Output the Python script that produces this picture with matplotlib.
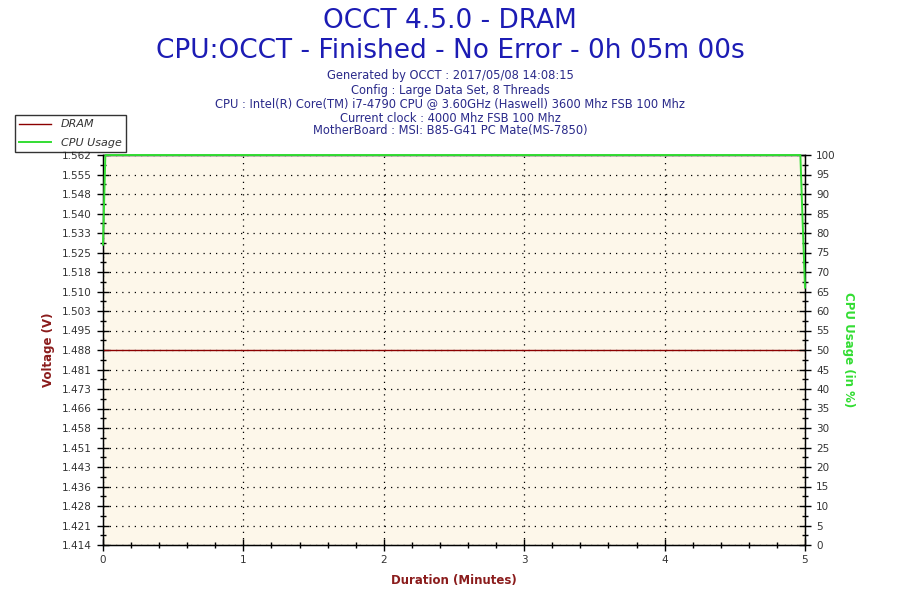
import matplotlib
matplotlib.use("Agg")
import matplotlib.pyplot as plt
from matplotlib.ticker import MultipleLocator, FixedLocator
import numpy as np

# Data
dram_time = [0.0, 5.0]
dram_voltage = [1.488, 1.488]
cpu_time = [0.0, 0.0, 0.0167, 4.967, 4.983, 5.0]
cpu_usage = [77, 77, 100, 100, 83, 66]

volt_labels = ["1.414", "1.421", "1.428", "1.436", "1.443", "1.451", "1.458", "1.466", "1.473", "1.481",
               "1.488", "1.495", "1.503", "1.510", "1.518", "1.525", "1.533", "1.540", "1.548", "1.555", "1.562"]

title1 = "OCCT 4.5.0 - DRAM"
title2 = "CPU:OCCT - Finished - No Error - 0h 05m 00s"
info_lines = [
    "Generated by OCCT : 2017/05/08 14:08:15",
    "Config : Large Data Set, 8 Threads",
    "CPU : Intel(R) Core(TM) i7-4790 CPU @ 3.60GHz (Haswell) 3600 Mhz FSB 100 Mhz",
    "Current clock : 4000 Mhz FSB 100 Mhz",
    "MotherBoard : MSI: B85-G41 PC Mate(MS-7850)",
]

RED = "#8b0000"
LABEL_RED = "#8b1c1c"
GREEN = "#33dd33"
BLUE = "#1c1cb4"
NAVY = "#2a2a8a"

fig = plt.figure(figsize=(9, 6), dpi=100)
fig.patch.set_facecolor("white")
ax = fig.add_axes([103/900, 1-545/600, 702/900, 390/600])
ax.set_facecolor("#fdf7ea")

vmin, vmax = 1.414, 1.562
ax.set_xlim(0, 5)
ax.set_ylim(vmin, vmax)

ax2 = ax.twinx()
ax2.set_ylim(0, 100)

l1, = ax.plot(dram_time, dram_voltage, color=RED, lw=1.0, zorder=3)
l2, = ax2.plot(cpu_time, cpu_usage, color=GREEN, lw=1.4, zorder=5, clip_on=False)

# ticks
step = (vmax - vmin) / 20
ax.yaxis.set_major_locator(FixedLocator([vmin + i*step for i in range(21)]))
ax.set_yticklabels(volt_labels)
ax.yaxis.set_minor_locator(FixedLocator([vmin + (i+0.5)*step for i in range(20)]))
ax.xaxis.set_major_locator(MultipleLocator(1))
ax.xaxis.set_minor_locator(MultipleLocator(0.2))
ax2.yaxis.set_major_locator(MultipleLocator(5))
ax2.yaxis.set_minor_locator(MultipleLocator(2.5))

for a in (ax, ax2):
    a.tick_params(axis="both", which="major", direction="inout", length=8, width=1,
                  labelsize=7.5, labelcolor="#333333", color="black")
    a.tick_params(axis="both", which="minor", direction="inout", length=5, width=1, color="black")
ax.tick_params(axis="x", which="major", pad=3)
ax.tick_params(axis="y", which="major", pad=4)
ax2.tick_params(axis="y", which="major", pad=4)

ax.grid(True, which="major", color="black", linestyle=(0, (1, 4)), lw=0.9)
ax.set_axisbelow(False)

for s in ax.spines.values():
    s.set_color("black")
    s.set_linewidth(1)
for s in ax2.spines.values():
    s.set_color("black")

ax.set_ylabel("Voltage (V)", color=LABEL_RED, fontsize=8.5, fontweight="bold", labelpad=5)
ax2.set_ylabel("CPU Usage (in %)", color=GREEN, fontsize=8.5, fontweight="bold",
               rotation=-90, labelpad=14)
ax.set_xlabel("Duration (Minutes)", color=LABEL_RED, fontsize=8.5, fontweight="bold", labelpad=7)

fig.text(0.5, 1-21/600, title1, ha="center", va="center", fontsize=19, color=BLUE)
fig.text(0.5, 1-51/600, title2, ha="center", va="center", fontsize=19, color=BLUE)
ys = [76, 91, 104, 118, 131]
for y, t in zip(ys, info_lines):
    fig.text(0.5, 1-y/600, t, ha="center", va="center", fontsize=8.3, color=NAVY)

leg = fig.legend([l1, l2], ["DRAM", "CPU Usage"], loc="upper left",
                 bbox_to_anchor=(15/900, 1-115/600), borderaxespad=0, frameon=True, fancybox=False,
                 prop={"style": "italic", "size": 8}, handlelength=2.8,
                 borderpad=0.4, labelspacing=0.75, handletextpad=0.9)
leg.get_frame().set_edgecolor("black")
leg.get_frame().set_linewidth(1)
for t in leg.get_texts():
    t.set_color("#333333")

fig.savefig("out.png", dpi=100, facecolor="white")
